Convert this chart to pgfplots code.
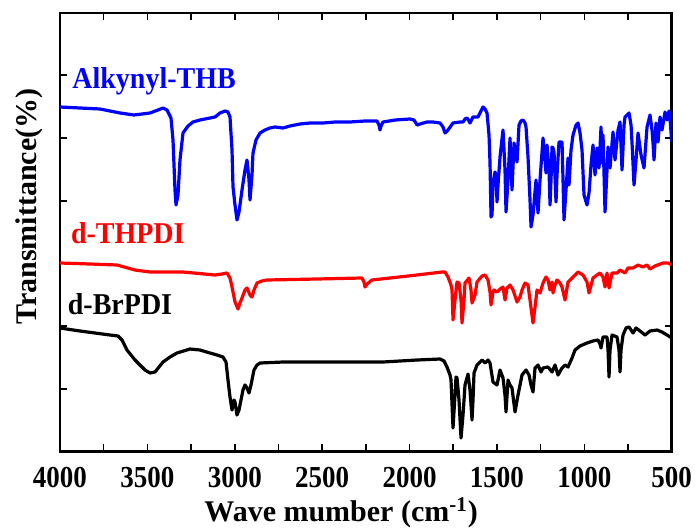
\documentclass[border=0pt]{standalone}
\usepackage{pgfplots}
\pgfplotsset{compat=1.18}
\usepackage{fontspec}
\setmainfont{Liberation Serif}
\definecolor{myblue}{RGB}{0,0,255}
\definecolor{myred}{RGB}{255,0,0}
\begin{document}
\begin{tikzpicture}
\path[use as bounding box] (0,0) rectangle (349.5pt,265.5pt);
\begin{axis}[
  at={(30pt,39.8pt)}, anchor=south west,
  scale only axis, width=305.85pt, height=219.25pt,
  x dir=reverse, xmin=500, xmax=4000, ymin=-0.4, ymax=438.1,
  xtick={500,1000,1500,2000,2500,3000,3500,4000},
  minor xtick={750,1250,1750,2250,2750,3250,3750},
  ytick={62.2,124.9,187.5,250.2,313.2,375.8}, yticklabels={},
  tick pos=both, tick align=inside,
  major tick length=3.5pt, minor tick length=3.5pt,
  every tick/.style={black, line width=0.8pt},
  axis line style={line width=1.3pt},
  /pgf/number format/assume math mode=true,
  /pgf/number format/set thousands separator={},
  xticklabel style={font=\fontsize{13.5}{14}\selectfont\bfseries, inner sep=0pt, yshift=-7.6pt, yscale=1.13},
  every axis plot/.append style={line width=1.6pt, line join=round, mark=none},
]
\addplot[myblue] table {
4000 344
3885.6 343
3771.1 342
3656.7 338
3576.6 336
3485 338
3439.2 341
3410.6 343
3387.7 341
3364.9 333
3353.4 311
3342 261
3336.2 246
3324.8 256
3313.4 291
3296.2 318
3267.6 325
3239 329
3198.9 331
3141.7 333
3113.1 334
3084.5 338
3055.9 340
3038.7 339
3027.3 334
3015.8 301
3010.1 264
2998.6 246
2987.2 231
2975.8 239
2958.6 261
2941.4 281
2930 291
2918.5 271
2912.8 251
2901.4 276
2895.7 298
2878.5 311
2855.6 318
2827 321
2798.4 323
2769.8 324
2724 323
2683.9 325
2626.7 327
2569.5 328
2495.1 328
2426.4 329
2340.6 329
2254.8 330
2186.1 330
2174.7 326
2169 321
2163.2 325
2151.8 329
2083.1 331
1997.3 332
1974.4 331
1957.2 326
1940.1 327
1900 329
1865.7 329
1825.6 328
1808.5 324
1797 318
1779.9 321
1751.3 328
1711.2 329
1694 329
1682.6 332
1671.1 333
1659.7 330
1654 328
1642.5 332
1636.8 334
1608.2 334
1591 340
1579.6 344
1568.1 342
1556.7 338
1545.3 316
1539.5 288
1533.8 234
1528.1 236
1522.4 268
1510.9 279
1505.2 276
1499.5 249
1493.8 266
1482.3 294
1465.2 321
1453.7 281
1448 239
1436.5 271
1425.1 313
1413.7 261
1402.2 308
1390.8 296
1385 289
1373.6 326
1362.2 330
1350.7 331
1339.3 328
1333.5 324
1322.1 294
1310.7 251
1304.9 224
1293.5 236
1276.3 271
1264.9 238
1253.4 271
1236.3 313
1224.8 291
1219.1 278
1213.4 306
1201.9 281
1196.2 246
1190.5 271
1184.8 304
1179 303
1173.3 299
1161.9 249
1156.2 276
1144.7 309
1127.6 309
1121.8 271
1116.1 231
1104.7 261
1093.2 293
1087.5 266
1076.1 301
1064.6 316
1047.4 326
1036 328
1024.6 318
1013.1 301
1001.7 256
984.5 246
973.1 258
961.6 286
950.2 306
938.7 276
927.3 303
915.8 283
904.4 324
898.7 288
893 316
881.5 239
870.1 281
864.3 304
852.9 283
835.7 319
824.3 291
807.1 321
795.7 329
784.2 281
772.8 326
767.1 334
744.2 338
732.7 326
727 308
715.6 266
704.1 291
692.7 318
675.5 296
658.4 283
641.2 324
624 336
612.6 321
606.9 308
601.1 291
589.7 328
578.2 309
566.8 334
555.4 321
538.2 339
526.7 331
515.3 340
509.6 333
500 309
};
\addplot[myred] table {
4000 188
3828.3 187
3673.8 186
3570.8 181
3485 179
3296.2 179
3113.1 176
3073 177
3044.4 178
3027.3 173
3015.8 164
2998.6 149
2981.5 142
2970 148
2958.6 153
2941.4 161
2930 163
2912.8 156
2901.4 154
2889.9 161
2872.8 168
2844.2 170
2815.5 171
2529.4 172
2272 173
2260.5 169
2254.8 164
2243.3 167
2214.7 171
1957.2 176
1814.2 179
1797 179
1779.9 174
1762.7 166
1757 161
1751.3 131
1739.8 151
1728.4 169
1716.9 168
1705.5 151
1699.8 128
1688.3 151
1682.6 168
1659.7 173
1648.3 161
1642.5 148
1625.4 156
1613.9 169
1585.3 175
1568.1 176
1551 171
1539.5 159
1533.8 146
1522.4 159
1516.7 161
1499.5 159
1482.3 162
1465.2 164
1453.7 151
1442.3 163
1425.1 166
1407.9 161
1385 149
1367.9 154
1356.4 161
1339.3 168
1322.1 166
1310.7 151
1293.5 128
1282 144
1270.6 161
1253.4 158
1236.3 168
1219.1 174
1207.7 171
1196.2 161
1184.8 169
1179 158
1167.6 166
1156.2 171
1139 168
1127.6 164
1110.4 151
1093.2 169
1064.6 174
1036 179
1007.4 176
984.5 169
973.1 158
950.2 173
927.3 176
910.1 178
893 174
881.5 164
870.1 178
858.6 163
841.5 178
812.8 178
795.7 181
767.1 178
749.9 183
721.3 183
692.7 186
664.1 184
641.2 186
624 182
595.4 185
549.6 188
521 188
500 186
};
\addplot[black] table {
4000 123
3885.6 120
3713.9 116
3668.1 115
3645.2 111
3616.6 101
3570.8 91
3513.6 81
3485 78
3456.4 79
3410.6 89
3370.6 94
3330.5 98
3256.1 102
3198.9 101
3141.7 98
3101.6 96
3067.3 94
3050.1 89
3038.7 71
3027.3 54
3015.8 41
3004.4 51
2998.6 49
2987.2 36
2975.8 41
2964.3 51
2952.9 61
2941.4 66
2930 63
2918.5 58
2907.1 66
2889.9 81
2872.8 86
2855.6 88
2724 89
2151.8 89
2054.5 90
1957.2 91
1825.6 92
1802.8 90
1785.6 84
1768.4 76
1762.7 71
1751.3 23
1739.8 56
1734.1 74
1728.4 73
1716.9 51
1705.5 13
1694 36
1682.6 66
1665.4 77
1654 61
1642.5 31
1636.8 51
1631.1 78
1613.9 86
1585.3 91
1568.1 88
1551 91
1539.5 88
1522.4 69
1499.5 66
1482.3 81
1465.2 73
1453.7 56
1448 39
1436.5 71
1425.1 66
1413.7 63
1396.5 39
1379.3 56
1356.4 76
1333.5 81
1316.4 76
1304.9 66
1293.5 59
1282 83
1264.9 86
1247.7 79
1236.3 83
1207.7 84
1184.8 79
1167.6 86
1150.4 76
1127.6 83
1110.4 86
1093.2 84
1070.3 93
1053.2 101
1024.6 105
984.5 108
950.2 110
921.6 111
910.1 107
904.4 103
893 114
870.1 114
864.3 101
858.6 74
852.9 101
841.5 116
812.8 114
801.4 101
795.7 79
790 101
778.5 116
761.3 123
744.2 124
721.3 118
704.1 123
681.2 120
652.6 116
624 120
584 121
555.4 119
526.7 116
500 113
};
\end{axis}
\node[anchor=base west, inner sep=0pt, yscale=1.08, text=myblue, font=\fontsize{14}{16}\selectfont\bfseries] at (36pt,221.2pt) {Alkynyl-THB};
\node[anchor=base west, inner sep=0pt, yscale=1.08, text=myred, font=\fontsize{14}{16}\selectfont\bfseries] at (35.3pt,143.6pt) {d-THPDI};
\node[anchor=base west, inner sep=0pt, yscale=1.08, text=black, font=\fontsize{14}{16}\selectfont\bfseries] at (33.75pt,108.5pt) {d-BrPDI};
\node[anchor=base west, inner sep=0pt, font=\fontsize{15}{17}\selectfont\bfseries] at (102pt,4.75pt) {Wave mumber (cm\textsuperscript{-1})};
\node[anchor=base, rotate=90, inner sep=0pt, font=\fontsize{15}{17}\selectfont\bfseries] at (18pt,162.25pt) {Transmittance(\%)};
\end{tikzpicture}
\end{document}
